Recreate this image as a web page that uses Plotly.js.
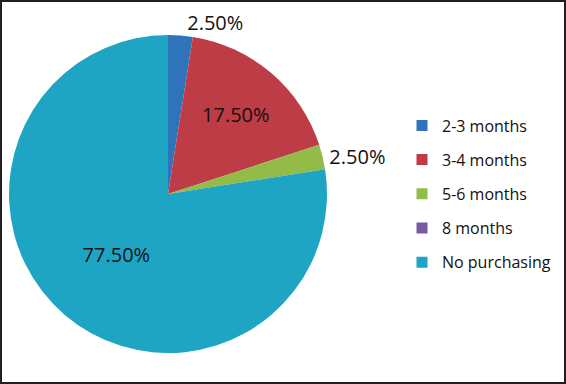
<!DOCTYPE html>
<html>
<head>
<meta charset="utf-8">
<script src="https://cdn.plot.ly/plotly-3.0.1.min.js"></script>
<style>html,body{margin:0;padding:0;background:#fff;}#chart{width:566px;height:384px;}</style>
</head>
<body>
<div id="chart"></div>
<script>
var categories = ["2-3 months", "3-4 months", "5-6 months", "8 months", "No purchasing"];
var shares = [2.5, 17.5, 2.5, 0, 77.5];
var colors = ["#2F74BA", "#BE3C45", "#93BB48", "#7A5AA5", "#1FA5C4"];
var labelPositions = ["outside", "inside", "outside", "none", "inside"];

var traces = [{
  type: "pie",
  labels: categories,
  values: shares,
  sort: false,
  direction: "clockwise",
  rotation: 0,
  marker: {colors: colors, line: {width: 0}},
  texttemplate: "%{percent:.2%}",
  textposition: labelPositions,
  textfont: {family: "Open Sans", size: 20, color: "#111"},
  insidetextorientation: "horizontal",
  showlegend: false,
  hoverinfo: "label+percent",
  domain: {x: [9/566, 327/566], y: [1 - 353/384, 1 - 35/384]}
}];

categories.forEach(function (c, i) {
  traces.push({
    type: "scatter",
    mode: "markers",
    x: [null], y: [null],
    name: c,
    legendgroup: "g" + i,
    marker: {symbol: "square", size: 11, color: colors[i]},
    showlegend: true,
    hoverinfo: "skip"
  });
});

var layout = {
  width: 566, height: 384,
  margin: {l: 0, r: 0, t: 0, b: 0},
  paper_bgcolor: "#fff", plot_bgcolor: "rgba(0,0,0,0)",
  xaxis: {visible: false}, yaxis: {visible: false},
  showlegend: true,
  legend: {
    x: 402/566, xanchor: "left", y: 1 - 194/384, yanchor: "middle",
    font: {family: "Open Sans", size: 16, color: "#111"},
    tracegroupgap: 10.4, bgcolor: "rgba(0,0,0,0)"
  },
  shapes: [{
    type: "rect", xref: "paper", yref: "paper",
    x0: 1/566, x1: 1 - 1/566, y0: 1/384, y1: 1 - 1/384,
    line: {color: "#231F20", width: 2}, fillcolor: "rgba(0,0,0,0)"
  }]
};

Plotly.newPlot("chart", traces, layout, {displayModeBar: false, staticPlot: true});
</script>
</body>
</html>
